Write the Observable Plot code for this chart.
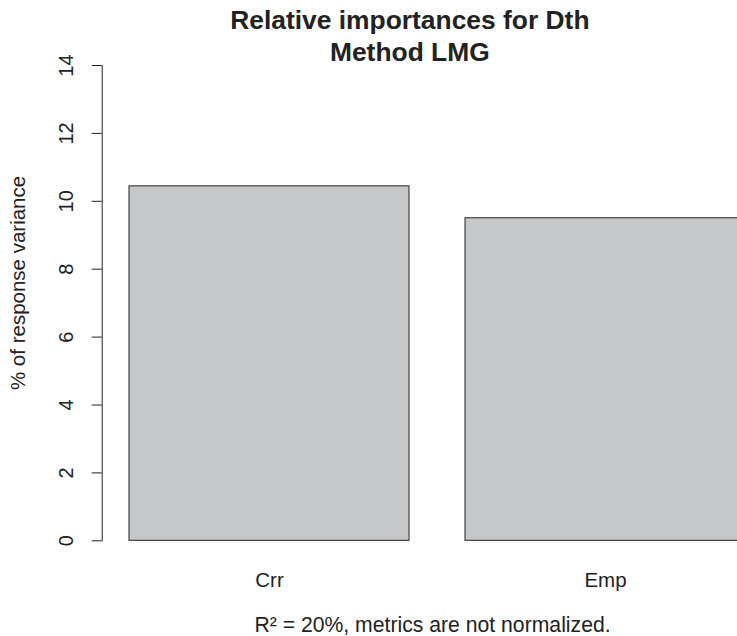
<!DOCTYPE html>
<html>
<head>
<meta charset="utf-8">
<script src="https://cdn.jsdelivr.net/npm/d3@7"></script>
<script src="https://cdn.jsdelivr.net/npm/@observablehq/plot@0.6"></script>
<style>
  html, body { margin: 0; padding: 0; background: #fff; overflow: hidden; }
</style>
</head>
<body>
<div id="chart"></div>
<script>
const categories = ["Crr", "Emp"];
const values = [10.44, 9.50];
const yTicks = [0, 2, 4, 6, 8, 10, 12, 14];
const titleText = "Relative importances for Dth\nMethod LMG";
const yLabel = "% of response variance";
const subtitle = "R² = 20%, metrics are not normalized.";

const data = categories.map((c, i) => ({cat: c, value: values[i]}));

const chart = Plot.plot({
  width: 737,
  height: 636,
  marginLeft: 101.7,
  marginRight: 0,
  marginTop: 65,
  marginBottom: 95.7,
  style: {fontFamily: "'Liberation Sans', Arial, Helvetica, sans-serif", color: "#222", background: "#fff"},
  x: {type: "band", domain: categories, range: [103.6, 770.5], paddingInner: 1/6, paddingOuter: 0.0733, align: 0.5, axis: null},
  y: {domain: [0, 14], axis: null},
  marks: [
    Plot.barY(data, {x: "cat", y: "value", fill: "#c6c7c9", stroke: "#222", strokeWidth: 1}),
    Plot.frame({anchor: "left", stroke: "#222"}),
    Plot.axisY(yTicks, {anchor: "left", tickSize: 10, tickPadding: 19, tickRotate: -90, fontSize: 20, label: null, stroke: "#222"}),
    Plot.axisX(categories, {anchor: "bottom", tickSize: 0, tickPadding: 45.7, lineAnchor: "bottom", fontSize: 20.5, label: null}),
    Plot.text([yLabel], {text: d => d, frameAnchor: "left", textAnchor: "middle", rotate: -90, dx: -77.7, dy: -20.2, lineAnchor: "bottom", fontSize: 20.5}),
    Plot.text([titleText], {text: d => d, frameAnchor: "top", dx: -10, dy: -5, lineAnchor: "bottom", lineHeight: 31.7 / 26.4, fontSize: 26.4, fontWeight: "bold"}),
    Plot.text([subtitle], {text: d => d, frameAnchor: "bottom", dx: 12.65, dy: 90.7, lineAnchor: "bottom", fontSize: 21.2})
  ]
});
document.getElementById("chart").appendChild(chart);
</script>
</body>
</html>
